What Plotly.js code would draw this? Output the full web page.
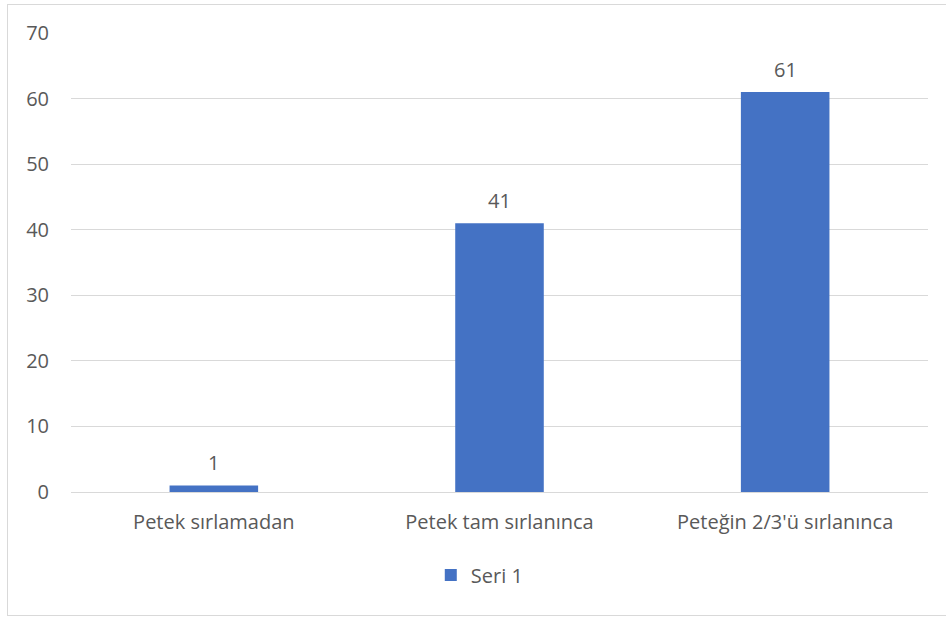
<!DOCTYPE html>
<html>
<head>
<meta charset="utf-8">
<script src="https://cdn.plot.ly/plotly-3.0.1.min.js"></script>
<style>
  html, body { margin: 0; padding: 0; background: #ffffff; }
  #chart { width: 946px; height: 619px; position: relative; }
  #frame { position: absolute; left: 7px; top: 4px; width: 945px; height: 612px; border: 1px solid #d9d9d9; pointer-events: none; box-sizing: border-box; }
</style>
</head>
<body>
<div style="position:relative;width:946px;height:619px;overflow:hidden;">
  <div id="chart"></div>
  <div id="frame"></div>
</div>
<script>
const categories = ["Petek sırlamadan", "Petek tam sırlanınca", "Peteğin 2/3'ü sırlanınca"];
const values = [1, 41, 61];
const seriesName = "Seri 1";
const yTicks = [0, 10, 20, 30, 40, 50, 60, 70];

const font = {family: "Open Sans, Noto Sans, sans-serif", size: 20, color: "#595959"};

const trace = {
  type: "bar",
  x: categories,
  y: values,
  name: seriesName,
  marker: {color: "#4472C4"},
  hoverinfo: "x+y"
};

const annotations = categories.map((c, i) => ({
  x: c, y: values[i], xref: "x", yref: "y",
  text: String(values[i]), showarrow: false,
  yanchor: "bottom", yshift: 7,
  font: font
}));

const layout = {
  width: 946, height: 619,
  margin: {l: 71, r: 18, t: 33, b: 127},
  paper_bgcolor: "rgba(0,0,0,0)",
  plot_bgcolor: "#ffffff",
  font: font,
  bargap: 0.69,
  showlegend: true,
  legend: {orientation: "h", x: 0.477, xanchor: "center", y: -0.181, yanchor: "middle", font: font, itemwidth: 30},
  xaxis: {
    type: "category", showgrid: false, zeroline: false, showline: false,
    ticks: "", tickfont: font, ticklabelstandoff: 16
  },
  yaxis: {
    range: [0, 70], tickvals: yTicks, showgrid: true, gridcolor: "#d9d9d9", gridwidth: 1,
    zeroline: true, zerolinecolor: "#d9d9d9", zerolinewidth: 1, showline: false,
    ticks: "", tickfont: font, ticklabelstandoff: 21
  },
  annotations: annotations
};

Plotly.newPlot("chart", [trace], layout, {displayModeBar: false, staticPlot: true});
</script>
</body>
</html>
